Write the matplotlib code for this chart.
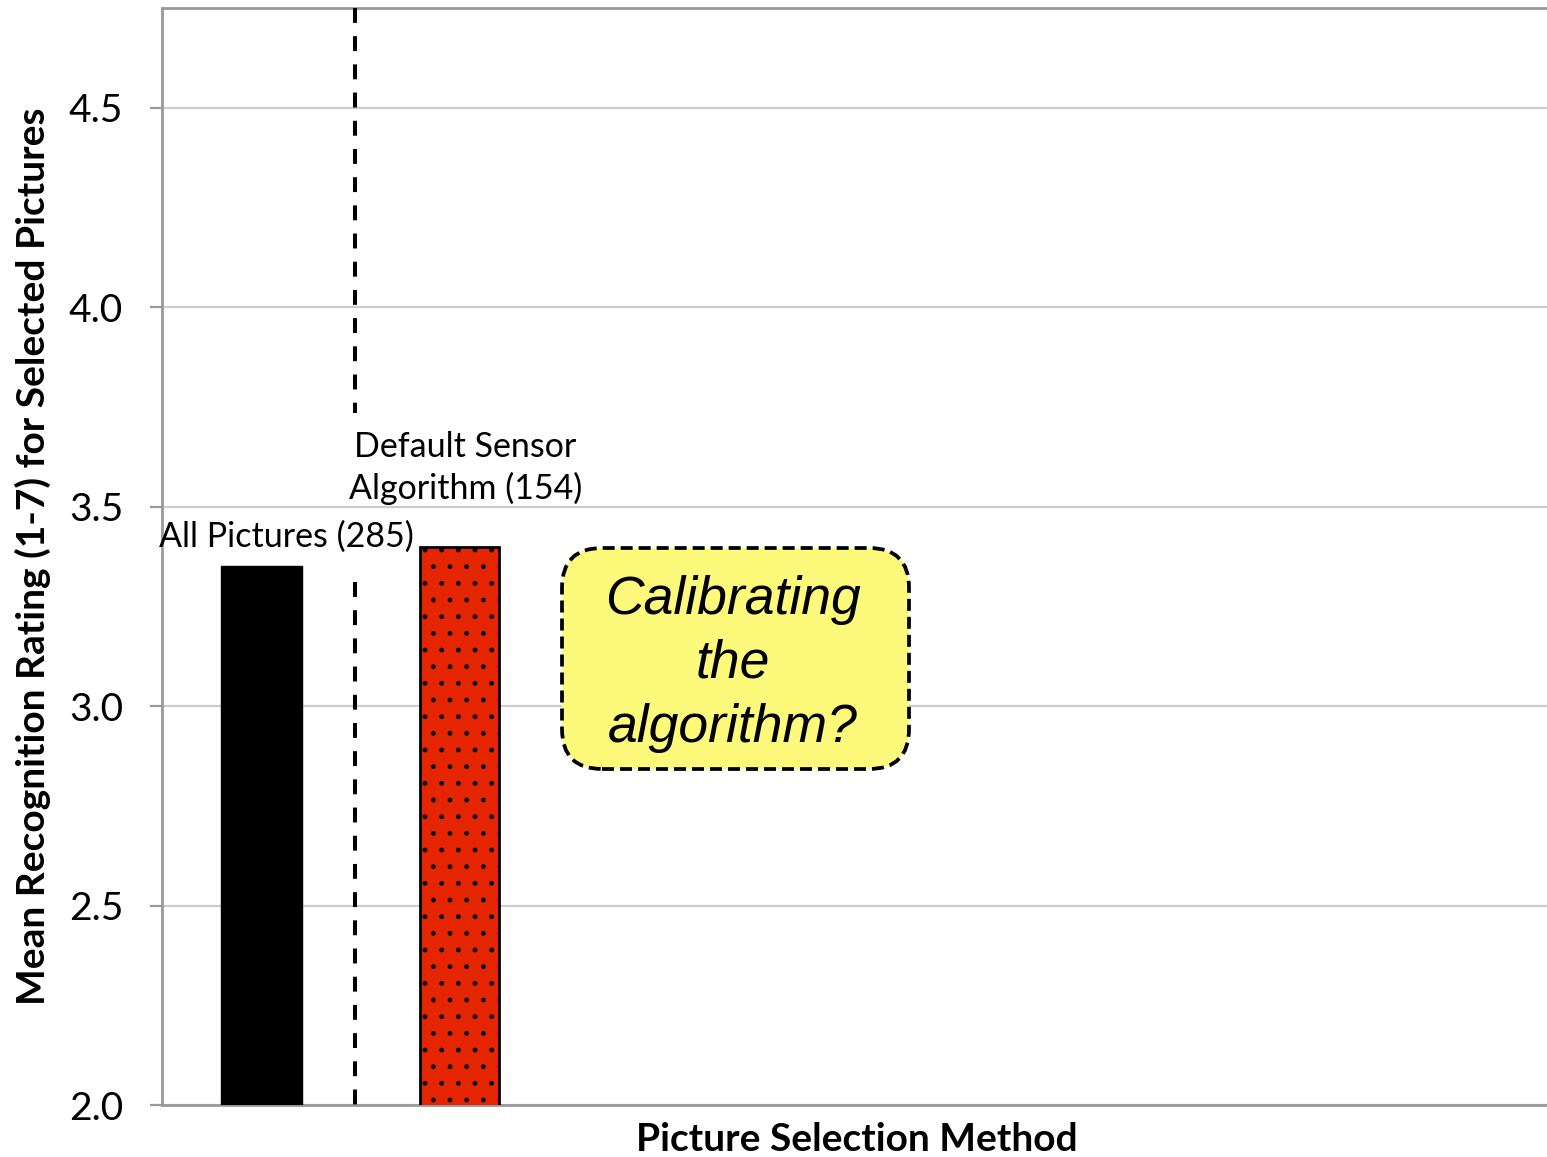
import matplotlib
matplotlib.use("Agg")
import matplotlib.pyplot as plt
from matplotlib.patches import FancyBboxPatch

plt.rcParams["font.family"] = ["Lato", "DejaVu Sans"]
plt.rcParams["hatch.color"] = "black"
plt.rcParams["hatch.linewidth"] = 1.0

# Data
methods = ["All Pictures (285)", "Default Sensor\nAlgorithm (154)"]
ratings = [3.35, 3.40]
ytick_values = [2.0, 2.5, 3.0, 3.5, 4.0, 4.5]
ytick_labels = ["2.0", "2.5", "3.0", "3.5", "4.0", "4.5"]
callout_text = "Calibrating\nthe\nalgorithm?"

W, H = 1547, 1157
fig = plt.figure(figsize=(W / 100, H / 100), dpi=100)
ax_left, ax_right, ax_top, ax_bottom = 162, 1551, 8, 1105
ax = fig.add_axes([ax_left / W, 1 - ax_bottom / H,
                   (ax_right - ax_left) / W, (ax_bottom - ax_top) / H])

ax.set_xlim(-0.5, 6.5)
ax.set_ylim(2.0, 4.75)

# Gridlines
ax.set_yticks(ytick_values)
ax.set_yticklabels(ytick_labels, fontsize=28)
ax.yaxis.grid(True, color="#cccccc", linewidth=1.6)
ax.set_axisbelow(True)
ax.set_xticks([])
ax.tick_params(axis="y", direction="out", length=9, width=1.6, color="#999999",
               pad=19, labelcolor="black")

for side in ["left", "bottom", "top"]:
    ax.spines[side].set_color("#999999")
    ax.spines[side].set_linewidth(2.0)
ax.spines["right"].set_visible(False)

# Bars
ax.bar(0, ratings[0], width=0.41, bottom=0, color="black", edgecolor="black",
       linewidth=1.0, zorder=3)
ax.bar(1, ratings[1], width=0.40, bottom=0, color="#e52400", edgecolor="black",
       linewidth=2.0, hatch=".", zorder=3)

# Separator between the two methods
dash = dict(color="black", linewidth=2.9, linestyle=(0, (3.7, 3.3)), zorder=4)
ax.plot([0.475, 0.475], [4.75, 3.735], **dash)
ax.plot([0.475, 0.475], [3.31, 2.0], **dash)

# Bar labels
ax.text(0.127, 3.425, methods[0], ha="center", va="center", fontsize=24.5, zorder=5)
ax.text(1.03, 3.597, methods[1], ha="center", va="center", fontsize=24.5,
        linespacing=1.33, zorder=5)

# Callout box
axW, axH = ax_right - ax_left, ax_bottom - ax_top
bx0, bx1, by0, by1 = 562, 909, 548, 769
box = FancyBboxPatch(((bx0 - ax_left) / axW, (ax_bottom - by1) / axH),
                     (bx1 - bx0) / axW, (by1 - by0) / axH,
                     boxstyle="round,pad=0,rounding_size=%f" % (40 / axW),
                     mutation_aspect=axW / axH,
                     transform=ax.transAxes, facecolor="#fdf97a",
                     edgecolor="black", linewidth=2.7, linestyle=(0, (3.2, 1.6)),
                     zorder=6)
ax.add_patch(box)
ax.text(((bx0 + bx1) / 2 - ax_left) / axW - 0.002, (ax_bottom - 664) / axH, callout_text,
        transform=ax.transAxes, ha="center", va="center", fontsize=38.5,
        fontstyle="italic", family=["Liberation Sans", "DejaVu Sans"],
        linespacing=1.36, zorder=7)

# Axis titles
ax.set_xlabel("Picture Selection Method", fontsize=28, fontweight="bold", labelpad=12)
ax.set_ylabel("Mean Recognition Rating (1-7) for Selected Pictures", fontsize=28,
              fontweight="bold", labelpad=13)

fig.savefig("out.png", dpi=100)
